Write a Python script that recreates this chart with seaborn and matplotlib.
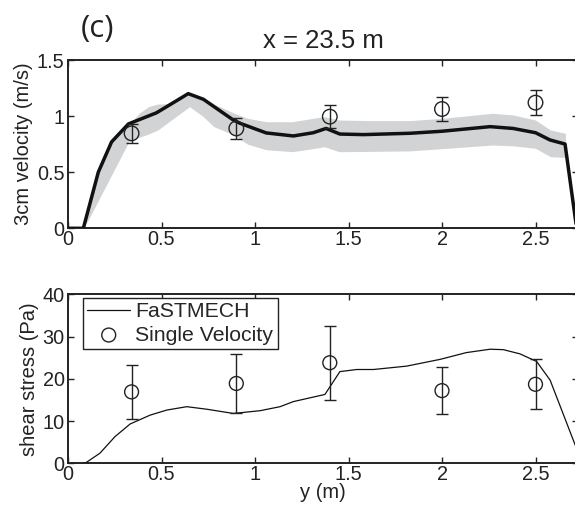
import numpy as np
import pandas as pd
import matplotlib
matplotlib.use("Agg")
import matplotlib.pyplot as plt
import seaborn as sns

# ---------------- data ----------------
# top panel: modelled 3cm velocity (thick line)
vel_y = [0.0, 0.082, 0.162, 0.233, 0.323, 0.474, 0.643, 0.724, 0.884, 0.92, 1.06, 1.205,
         1.312, 1.38, 1.454, 1.58, 1.83, 2.0, 2.257, 2.38, 2.5, 2.578, 2.658, 2.72]
vel_v = [0.0, 0.0, 0.5, 0.77, 0.93, 1.03, 1.20, 1.15, 0.965, 0.936, 0.85, 0.823,
         0.852, 0.89, 0.84, 0.835, 0.847, 0.865, 0.906, 0.89, 0.852, 0.787, 0.751, 0.0]

# uncertainty band
band_y = [0.08, 0.107, 0.16, 0.23, 0.33, 0.38, 0.43, 0.48, 0.54, 0.65, 0.72, 0.78, 0.89,
          0.96, 1.06, 1.2, 1.31, 1.37, 1.45, 1.6, 1.83, 2.0, 2.27, 2.38, 2.5, 2.58, 2.66]
band_lo = [0.0, 0.07, 0.24, 0.465, 0.787, 0.81, 0.84, 0.876, 0.95, 1.084, 1.0, 0.906, 0.83,
           0.75, 0.70, 0.683, 0.71, 0.727, 0.683, 0.685, 0.69, 0.71, 0.742, 0.735, 0.713, 0.638, 0.632]
band_hi = [0.0, 0.16, 0.49, 0.76, 0.93, 1.025, 1.084, 1.108, 1.11, 1.19, 1.15, 1.108, 1.025,
           0.98, 0.95, 0.95, 0.98, 0.995, 0.965, 0.96, 0.96, 0.98, 1.025, 1.01, 0.965, 0.876, 0.847]

# measured velocities with error bars
meas_y = [0.34, 0.90, 1.40, 2.00, 2.50]
meas_v = [0.846, 0.89, 0.995, 1.063, 1.12]
meas_v_err = [0.086, 0.09, 0.10, 0.105, 0.11]

# bottom panel: FaSTMECH shear stress
tau_y = [0.091, 0.171, 0.251, 0.332, 0.439, 0.528, 0.635, 0.742, 0.884, 1.027, 1.134,
         1.205, 1.374, 1.454, 1.544, 1.633, 1.811, 1.99, 2.13, 2.257, 2.328, 2.417,
         2.506, 2.578, 2.75]
tau_v = [0.0, 2.4, 6.3, 9.3, 11.4, 12.6, 13.4, 12.8, 11.8, 12.45, 13.4,
         14.6, 16.3, 21.7, 22.2, 22.2, 23.0, 24.6, 26.2, 27.0, 26.9, 25.9,
         24.1, 19.7, 0.0]

# single velocity shear stress estimates
sv_tau = [16.9, 18.9, 23.8, 17.2, 18.7]
sv_err = [6.3, 7.0, 8.8, 5.5, 5.9]

xticks = [0, 0.5, 1, 1.5, 2, 2.5]
xticklabels = ["0", "0.5", "1", "1.5", "2", "2.5"]
vticks = [0, 0.5, 1, 1.5]
vticklabels = ["0", "0.5", "1", "1.5"]
tticks = [0, 10, 20, 30, 40]
tticklabels = ["0", "10", "20", "30", "40"]

# ---------------- style ----------------
sns.set_theme(style="ticks")
plt.rcParams["font.family"] = ["Liberation Sans", "DejaVu Sans"]
plt.rcParams["axes.linewidth"] = 1.4
plt.rcParams["xtick.direction"] = "in"
plt.rcParams["ytick.direction"] = "in"

W, H = 575, 514
fig = plt.figure(figsize=(W / 100, H / 100), dpi=100)

def px_axes(l, t, r, b):
    return fig.add_axes([l / W, 1 - b / H, (r - l) / W, (b - t) / H])

ax1 = px_axes(68, 60, 578, 228.3)
ax2 = px_axes(68, 294.3, 578, 463.3)
xmax = (578 - 68) / 187.0

df_vel = pd.DataFrame({"y": vel_y, "v": vel_v})
df_meas = pd.DataFrame({"y": meas_y, "v": meas_v})
df_tau = pd.DataFrame({"y": tau_y, "tau": tau_v})
df_sv = pd.DataFrame({"y": meas_y, "tau": sv_tau})

# top panel
ax1.fill_between(band_y, band_lo, band_hi, color="#d2d3d5", lw=0, zorder=1)
sns.lineplot(data=df_vel, x="y", y="v", ax=ax1, color="#111111", lw=2.5,
             sort=False, estimator=None, zorder=3)
ax1.errorbar(meas_y, meas_v, yerr=meas_v_err, fmt="none", ecolor="#222222",
             elinewidth=1.0, capsize=4, capthick=1.0, zorder=4)
sns.scatterplot(data=df_meas, x="y", y="v", ax=ax1, marker="o", s=110,
                facecolor="none", edgecolor="#222222", linewidth=1.0, zorder=5)

# bottom panel
sns.lineplot(data=df_tau, x="y", y="tau", ax=ax2, color="#111111", lw=0.9,
             sort=False, estimator=None, zorder=3, label="FaSTMECH")
ax2.errorbar(meas_y, sv_tau, yerr=sv_err, fmt="none", ecolor="#222222",
             elinewidth=1.0, capsize=4, capthick=1.0, zorder=4)
sns.scatterplot(data=df_sv, x="y", y="tau", ax=ax2, marker="o", s=100,
                facecolor="none", edgecolor="#222222", linewidth=1.0, zorder=5,
                label="Single Velocity")

for ax in (ax1, ax2):
    ax.set_xlim(0, xmax)
    ax.set_xticks(xticks)
    ax.set_xticklabels(xticklabels)
    ax.tick_params(axis="both", which="both", direction="in", top=True, right=True,
                   length=4.5, width=1.0, labelsize=14.3, colors="#222222")
    ax.tick_params(axis="x", pad=1.5)
    ax.tick_params(axis="y", pad=2.5)
    for s in ax.spines.values():
        s.set_color("#222222")
        s.set_linewidth(1.4)

ax1.set_ylim(0, 1.5)
ax1.set_yticks(vticks)
ax1.set_yticklabels(vticklabels)
ax2.set_ylim(0, 40)
ax2.set_yticks(tticks)
ax2.set_yticklabels(tticklabels)

ax1.set_xlabel("")
ax1.set_ylabel("3cm velocity (m/s)", fontsize=14.5, color="#222222", labelpad=2.5)
ax2.set_ylabel("shear stress (Pa)", fontsize=14.5, color="#222222", labelpad=2.5)
ax2.set_xlabel("y (m)", fontsize=14.5, color="#222222", labelpad=-1)

ax1.set_title("x = 23.5 m", fontsize=18.5, color="#222222", pad=9)
fig.text(97 / W, 1 - 29 / H, "(c)", fontsize=22.5, color="#222222",
         family=["Open Sans", "DejaVu Sans"], ha="center", va="center")

leg = ax2.legend(loc="upper left", bbox_to_anchor=(0.029, 0.98), borderaxespad=0,
                 fontsize=15.3, frameon=True, fancybox=False, edgecolor="#222222",
                 framealpha=1, handlelength=2.0, handletextpad=0.25,
                 labelspacing=0.2, borderpad=0.22)
leg.get_frame().set_linewidth(1.0)

fig.savefig("out.png", dpi=100)
